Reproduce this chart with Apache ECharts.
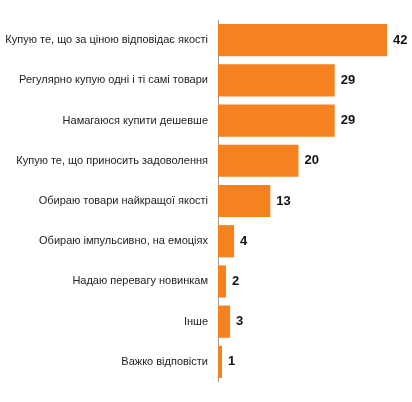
<!DOCTYPE html>
<html><head><meta charset="utf-8">
<script src="https://cdn.jsdelivr.net/npm/echarts@6/dist/echarts.min.js"></script>
<style>html,body{margin:0;padding:0;background:#fff}#c{width:412px;height:402px}</style>
</head><body><div id="c"></div>
<script>
const categories = ["Купую те, що за ціною відповідає якості","Регулярно купую одні і ті самі товари","Намагаюся купити дешевше","Купую те, що приносить задоволення","Обираю товари найкращої якості","Обираю імпульсивно, на емоціях","Надаю перевагу новинкам","Інше","Важко відповісти"];
const values = [42,29,29,20,13,4,2,3,1];
const chart = echarts.init(document.getElementById('c'));
chart.setOption({
  animation:false,
  grid:{left:218,right:25,top:20,bottom:20},
  xAxis:{type:'value',min:0,max:42,show:false},
  yAxis:{type:'category',inverse:true,data:categories,
    axisLine:{lineStyle:{color:'#999'}},axisTick:{show:false},
    axisLabel:{fontFamily:'Liberation Sans, Arial',fontSize:11,color:'#222',margin:10}},
  series:[{type:'bar',data:values,barCategoryGap:'20%',itemStyle:{color:'#F5821F'},
    label:{show:true,position:'right',fontFamily:'Liberation Sans, Arial',fontWeight:'bold',fontSize:13,color:'#111',distance:6}}]
});
</script></body></html>
